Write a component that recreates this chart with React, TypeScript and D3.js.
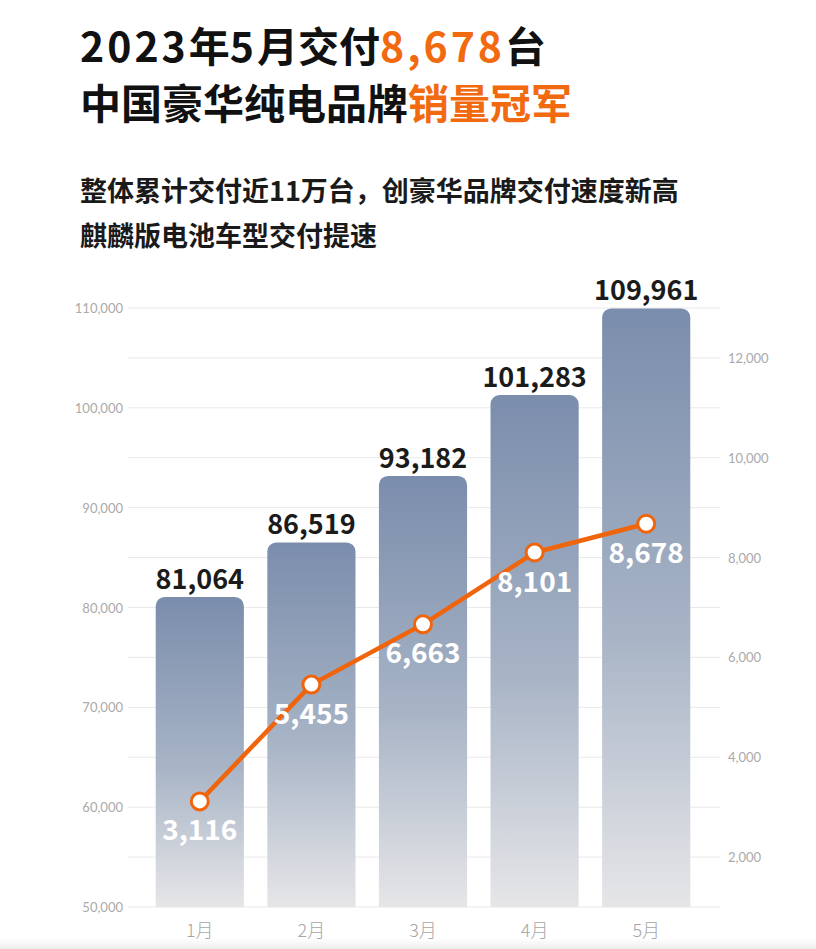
import React from 'react';
import * as d3 from 'd3';

const months = ['1月', '2月', '3月', '4月', '5月'];
const cumulative = [81064, 86519, 93182, 101283, 109961];
const monthly = [3116, 5455, 6663, 8101, 8678];
const leftTicks = [50000, 60000, 70000, 80000, 90000, 100000, 110000];
const rightTicks = [2000, 4000, 6000, 8000, 10000, 12000];
const gridValues = d3.range(50000, 110001, 5000);

const titleLine1 = [
  { t: '2023', c: '#111', digits: true },
  { t: '年', c: '#111', digits: false },
  { t: '5', c: '#111', digits: true },
  { t: '月交付', c: '#111', digits: false },
  { t: '8,678', c: '#f26a0f', digits: true },
  { t: '台', c: '#111', digits: false },
];
const titleLine2 = [
  { t: '中国豪华纯电品牌', c: '#111' },
  { t: '销量冠军', c: '#f26a0f' },
];
const subtitle = ['整体累计交付近11万台，创豪华品牌交付速度新高', '麒麟版电池车型交付提速'];

const W = 816;
const H = 949;
const FONT = '"Noto Sans CJK SC", "Noto Sans", sans-serif';
const ORANGE = '#f0650c';

export default function App() {
  const x = d3.scaleBand<string>().domain(months).range([144, 702]).paddingInner(0.21).paddingOuter(0.105);
  const yL = d3.scaleLinear().domain([50000, 110000]).range([907, 308]);
  const yR = d3.scaleLinear().domain([1000, 13000]).range([907, 308]);
  const fmt = d3.format(',');
  const bw = x.bandwidth();
  const cx = (m: string) => (x(m) as number) + bw / 2;

  const line = d3
    .line<number>()
    .x((_, i) => cx(months[i]))
    .y((d) => yR(d));

  const barPath = (x0: number, y0: number, w: number, y1: number, r: number) => {
    const p = d3.path();
    p.moveTo(x0, y1);
    p.lineTo(x0, y0 + r);
    p.arcTo(x0, y0, x0 + r, y0, r);
    p.lineTo(x0 + w - r, y0);
    p.arcTo(x0 + w, y0, x0 + w, y0 + r, r);
    p.lineTo(x0 + w, y1);
    p.closePath();
    return p.toString();
  };

  return (
    <div style={{ position: 'fixed', left: 0, top: 0, width: W, height: H, background: '#fff' }}>
      <svg width={W} height={H} viewBox={`0 0 ${W} ${H}`} style={{ display: 'block' }}>
        <defs>
          <linearGradient id="barGrad" x1="0" y1="0" x2="0" y2="1">
            <stop offset="0%" stopColor="#7a8dac" />
            <stop offset="55%" stopColor="#a8b4c6" />
            <stop offset="100%" stopColor="#e6e6e8" />
          </linearGradient>
          <linearGradient id="bottomFade" x1="0" y1="0" x2="0" y2="1">
            <stop offset="0%" stopColor="#ffffff" />
            <stop offset="100%" stopColor="#eeeeee" />
          </linearGradient>
        </defs>
        <rect x={0} y={0} width={W} height={H} fill="#fff" />
        <rect x={0} y={938} width={W} height={11} fill="url(#bottomFade)" />

        {/* titles */}
        <text x={80} y={62} fontFamily={FONT} fontSize={41} fontWeight={700}>
          {titleLine1.map((s, i) => (
            <tspan key={i} fill={s.c} letterSpacing={s.digits ? 3 : 0}>{s.t}</tspan>
          ))}
        </text>
        <text x={80} y={119} fontFamily={FONT} fontSize={41} fontWeight={700}>
          {titleLine2.map((s, i) => (
            <tspan key={i} fill={s.c}>{s.t}</tspan>
          ))}
        </text>
        {subtitle.map((s, i) => (
          <text key={i} x={80} y={201 + i * 45} fontFamily={FONT} fontSize={27} fontWeight={700} fill="#1a1a1a">
            {s}
          </text>
        ))}

        {/* grid */}
        {gridValues.map((v) => (
          <line key={v} x1={128} x2={720} y1={yL(v)} y2={yL(v)} stroke="#e9e9e9" strokeWidth={1} />
        ))}
        {leftTicks.map((v) => (
          <text key={v} x={123} y={yL(v) + 5} textAnchor="end" fontFamily='"Lato", "Noto Sans", sans-serif' fontSize={13} fill="#aaaaaa">
            {fmt(v)}
          </text>
        ))}
        {rightTicks.map((v) => (
          <text key={v} x={728} y={yR(v) + 5} textAnchor="start" fontFamily='"Lato", "Noto Sans", sans-serif' fontSize={13} fill="#aaaaaa">
            {fmt(v)}
          </text>
        ))}

        {/* bars */}
        {cumulative.map((v, i) => {
          const x0 = x(months[i]) as number;
          return (
            <path key={i} d={barPath(x0, yL(v), bw, yL(50000), 9)} fill="url(#barGrad)" />
          );
        })}
        {cumulative.map((v, i) => (
          <text key={i} x={cx(months[i])} y={yL(v) - 8} textAnchor="middle" fontFamily={FONT} fontSize={27} fontWeight={600} fill="#1b1b1b">
            {fmt(v)}
          </text>
        ))}

        {/* x labels */}
        {months.map((m) => (
          <text key={m} x={cx(m)} y={937} textAnchor="middle" fontFamily={FONT} fontSize={18} fontWeight={300} fill="#a5a5a5">
            {m}
          </text>
        ))}

        {/* line */}
        <path d={line(monthly) as string} fill="none" stroke={ORANGE} strokeWidth={4.5} strokeLinejoin="round" />
        {monthly.map((v, i) => (
          <circle key={i} cx={cx(months[i])} cy={yR(v)} r={8.5} fill="#fff" stroke={ORANGE} strokeWidth={3} />
        ))}
        {monthly.map((v, i) => (
          <text key={i} x={cx(months[i])} y={yR(v) + 39} textAnchor="middle" fontFamily={FONT} fontSize={28} fontWeight={700} fill="#ffffff">
            {fmt(v)}
          </text>
        ))}
      </svg>
    </div>
  );
}
